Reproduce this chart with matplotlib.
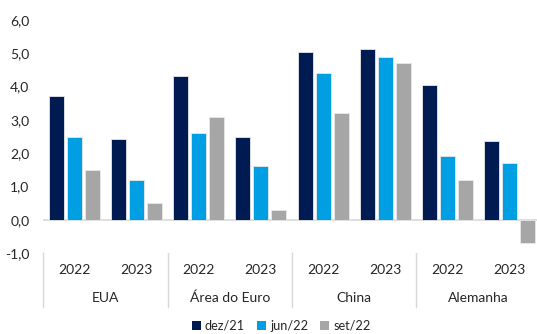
import matplotlib
matplotlib.use("Agg")
import matplotlib.pyplot as plt
from matplotlib.patches import Patch
import numpy as np

plt.rcParams['font.family'] = ['Lato', 'DejaVu Sans']

countries = ["EUA", "Área do Euro", "China", "Alemanha"]
years = ["2022", "2023"]
series_names = ["dez/21", "jun/22", "set/22"]
dez21 = [3.72, 2.43, 4.31, 2.5, 5.05, 5.13, 4.04, 2.35]
jun22 = [2.5, 1.2, 2.6, 1.6, 4.4, 4.9, 1.9, 1.7]
set22 = [1.5, 0.5, 3.1, 0.3, 3.2, 4.7, 1.2, -0.7]
yticks = [-1.0, 0.0, 1.0, 2.0, 3.0, 4.0, 5.0, 6.0]
colors = ["#001A52", "#009FE3", "#A6A6A6"]

W, H = 537, 334
fig = plt.figure(figsize=(W / 100, H / 100), dpi=100)
left_px, top_px, bottom_px = 43.4, 20, 253
slot = 62.14
right_px = W
ax = fig.add_axes([left_px / W, 1 - bottom_px / H, (right_px - left_px) / W, (bottom_px - top_px) / H])

n = len(dez21)
x = np.arange(n)
pitch = 18 / slot
bw = 15 / slot
for i, (vals, c) in enumerate(zip([dez21, jun22, set22], colors)):
    ax.bar(x + (i - 1) * pitch, vals, width=bw, color=c, edgecolor="#e8e8e8", linewidth=0.6, zorder=2)

ax.set_xlim(-0.5, -0.5 + (right_px - left_px) / slot)
ax.set_ylim(-1, 6)
ax.axhline(0, color="#d9d9d9", linewidth=1.2, zorder=1)
for s in ax.spines.values():
    s.set_visible(False)
ax.set_xticks([])
ax.set_yticks(yticks)
ax.set_yticklabels([f"{v:.1f}".replace(".", ",") for v in yticks], fontsize=10, color="#262626")
ax.tick_params(axis="y", length=0, pad=10)

trans = ax.get_xaxis_transform()
ah = bottom_px - top_px
for i in range(n):
    ax.text(i, -(270 - bottom_px) / ah, years[i % 2], transform=trans, ha="center", va="center",
            fontsize=10, color="#262626")
for j, cn in enumerate(countries):
    ax.text(2 * j + 0.5, -(297.5 - bottom_px) / ah, cn, transform=trans, ha="center", va="center",
            fontsize=10, color="#262626")
for j in range(len(countries) + 1):
    ax.plot([2 * j - 0.5, 2 * j - 0.5], [0, -(307 - bottom_px) / ah], transform=trans,
            color="#d9d9d9", linewidth=1, clip_on=False)

handles = [Patch(facecolor=c, edgecolor="none") for c in colors]
fig.legend(handles, series_names, loc="center", bbox_to_anchor=(281 / W, 1 - 326 / H), ncol=3,
           frameon=False, fontsize=9.2, handlelength=0.75, handleheight=0.75, handletextpad=0.3,
           columnspacing=0.9, labelcolor="#262626")

fig.savefig("out.png", dpi=100)
